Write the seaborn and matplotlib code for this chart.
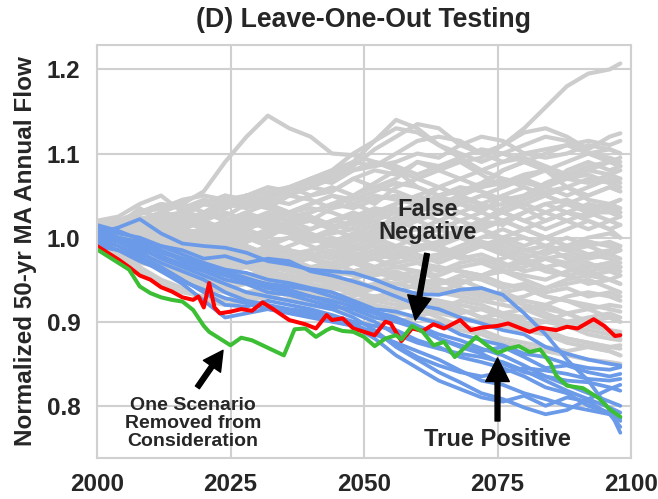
import matplotlib
matplotlib.use("Agg")
import matplotlib.pyplot as plt
import seaborn as sns

# ---------------- data ----------------
grid_years = [2000, 2004, 2008, 2012, 2016, 2020, 2024, 2028, 2032, 2036, 2040, 2044, 2048,
              2052, 2056, 2060, 2064, 2068, 2072, 2076, 2080, 2084, 2088, 2092, 2096, 2098]

gray_01 = [1.01, 1.02, 1.03, 1.035, 1.04, 1.055, 1.09, 1.12, 1.145, 1.13, 1.12, 1.10, 1.098, 1.09, 1.08, 1.06, 1.05, 1.04, 1.03, 1.02, 1.01, 1.00, 0.99, 0.995, 0.99, 0.985]
gray_02 = [1.00, 1.01, 1.02, 1.015, 1.02, 1.03, 1.025, 1.04, 1.035, 1.05, 1.06, 1.055, 1.07, 1.08, 1.075, 1.09, 1.085, 1.09, 1.095, 1.11, 1.13, 1.155, 1.18, 1.195, 1.20, 1.207]
gray_03 = [1.01, 1.005, 1.02, 1.03, 1.025, 1.04, 1.035, 1.045, 1.05, 1.06, 1.065, 1.075, 1.09, 1.115, 1.14, 1.13, 1.11, 1.095, 1.08, 1.07, 1.06, 1.05, 1.04, 1.03, 1.03, 1.025]
gray_04 = [1.015, 1.02, 1.01, 1.025, 1.03, 1.02, 1.04, 1.05, 1.055, 1.06, 1.07, 1.08, 1.09, 1.085, 1.10, 1.115, 1.12, 1.115, 1.10, 1.11, 1.125, 1.13, 1.12, 1.105, 1.12, 1.124]
gray_05 = [1.00, 1.02, 1.03, 1.04, 1.035, 1.04, 1.035, 1.045, 1.05, 1.06, 1.07, 1.08, 1.10, 1.115, 1.13, 1.125, 1.11, 1.10, 1.09, 1.10, 1.11, 1.12, 1.115, 1.10, 1.095, 1.09]
gray_06 = [1.005, 1.01, 1.03, 1.04, 1.035, 1.045, 1.04, 1.05, 1.045, 1.055, 1.06, 1.07, 1.085, 1.105, 1.12, 1.135, 1.13, 1.11, 1.10, 1.09, 1.10, 1.095, 1.10, 1.11, 1.105, 1.10]
gray_07 = [1.02, 1.025, 1.04, 1.05, 1.03, 1.04, 1.035, 1.05, 1.06, 1.055, 1.07, 1.065, 1.08, 1.085, 1.09, 1.10, 1.095, 1.11, 1.12, 1.115, 1.10, 1.105, 1.11, 1.10, 1.09, 1.085]
gray_08 = [1.01, 1.015, 1.035, 1.02, 1.03, 1.04, 1.05, 1.04, 1.05, 1.06, 1.05, 1.055, 1.07, 1.06, 1.07, 1.09, 1.08, 1.07, 1.06, 1.08, 1.09, 1.08, 1.07, 1.08, 1.075, 1.07]
gray_09 = [1.00, 1.01, 1.00, 1.02, 1.03, 1.025, 1.04, 1.035, 1.045, 1.04, 1.05, 1.06, 1.05, 1.04, 1.06, 1.07, 1.08, 1.09, 1.075, 1.06, 1.07, 1.08, 1.06, 1.05, 1.06, 1.055]
gray_10 = [1.01, 1.00, 1.015, 1.01, 1.02, 1.03, 1.02, 1.03, 1.04, 1.03, 1.02, 1.035, 1.04, 1.05, 1.045, 1.04, 1.06, 1.05, 1.04, 1.05, 1.04, 1.05, 1.06, 1.045, 1.04, 1.045]
gray_11 = [1.00, 1.005, 1.01, 1.00, 1.01, 1.02, 1.01, 1.02, 1.015, 1.03, 1.02, 1.01, 1.02, 1.03, 1.02, 1.01, 1.02, 1.03, 1.04, 1.03, 1.02, 1.03, 1.04, 1.03, 1.02, 1.025]
gray_12 = [0.995, 1.00, 1.01, 1.015, 1.005, 1.01, 1.00, 1.01, 1.02, 1.01, 1.00, 1.005, 1.01, 1.00, 0.99, 1.00, 1.01, 1.00, 0.99, 1.00, 1.01, 1.00, 0.99, 1.00, 1.005, 1.00]
gray_13 = [1.005, 0.995, 1.00, 0.99, 1.00, 0.995, 1.005, 0.99, 0.98, 0.99, 1.00, 0.99, 0.98, 0.985, 0.99, 0.98, 0.97, 0.98, 0.99, 0.98, 0.97, 0.975, 0.98, 0.97, 0.96, 0.965]
gray_14 = [1.00, 0.99, 0.98, 0.985, 0.98, 0.97, 0.975, 0.98, 0.97, 0.96, 0.965, 0.97, 0.96, 0.955, 0.96, 0.95, 0.945, 0.955, 0.95, 0.94, 0.945, 0.935, 0.94, 0.93, 0.935, 0.93]
gray_15 = [1.01, 1.00, 0.99, 0.98, 0.97, 0.96, 0.965, 0.955, 0.96, 0.95, 0.955, 0.945, 0.95, 0.94, 0.935, 0.93, 0.925, 0.92, 0.915, 0.91, 0.905, 0.90, 0.895, 0.89, 0.885, 0.88]
gray_16 = [0.995, 0.99, 0.985, 0.975, 0.965, 0.97, 0.96, 0.95, 0.955, 0.945, 0.94, 0.945, 0.935, 0.93, 0.935, 0.925, 0.92, 0.915, 0.905, 0.91, 0.90, 0.89, 0.88, 0.875, 0.87, 0.868]
gray_17 = [1.015, 1.02, 1.025, 1.015, 1.02, 1.01, 1.005, 1.01, 1.00, 1.015, 1.02, 1.01, 1.00, 1.005, 1.015, 1.025, 1.03, 1.02, 1.01, 1.02, 1.03, 1.04, 1.03, 1.02, 1.01, 1.015]
gray_18 = [1.005, 1.015, 1.02, 1.03, 1.02, 1.01, 1.02, 1.025, 1.015, 1.005, 1.01, 1.02, 1.03, 1.02, 1.01, 1.00, 0.99, 1.00, 1.01, 0.995, 0.985, 0.99, 1.00, 0.99, 0.98, 0.985]
gray_19 = [0.99, 0.995, 1.005, 0.995, 0.99, 0.985, 0.99, 1.00, 0.995, 0.985, 0.98, 0.975, 0.985, 0.99, 0.98, 0.97, 0.965, 0.96, 0.955, 0.96, 0.95, 0.94, 0.945, 0.95, 0.94, 0.935]
gray_20 = [1.01, 1.005, 0.995, 1.00, 0.99, 0.98, 0.985, 0.975, 0.98, 0.985, 0.975, 0.965, 0.97, 0.96, 0.965, 0.97, 0.96, 0.97, 0.975, 0.965, 0.97, 0.96, 0.955, 0.96, 0.95, 0.955]
gray_21 = [1.02, 1.01, 1.02, 1.03, 1.04, 1.03, 1.02, 1.03, 1.02, 1.03, 1.035, 1.03, 1.02, 1.01, 1.005, 1.00, 1.01, 1.02, 1.01, 1.00, 0.99, 1.00, 1.01, 1.02, 1.01, 1.00]
gray_22 = [1.00, 1.01, 1.005, 0.995, 1.00, 1.01, 1.015, 1.005, 0.995, 1.00, 0.99, 0.98, 0.99, 1.00, 1.01, 1.02, 1.01, 1.02, 1.03, 1.05, 1.06, 1.05, 1.04, 1.05, 1.06, 1.055]
gray_23 = [1.005, 1.00, 0.995, 1.005, 1.01, 1.00, 0.99, 0.98, 0.99, 0.985, 0.975, 0.98, 0.97, 0.975, 0.98, 0.99, 0.985, 0.975, 0.98, 0.97, 0.96, 0.965, 0.955, 0.945, 0.95, 0.945]
gray_24 = [0.995, 0.985, 0.99, 0.98, 0.975, 0.985, 0.975, 0.97, 0.965, 0.97, 0.96, 0.955, 0.96, 0.95, 0.945, 0.94, 0.935, 0.93, 0.925, 0.93, 0.92, 0.91, 0.90, 0.895, 0.89, 0.885]
gray_25 = [1.01, 1.02, 1.015, 1.03, 1.04, 1.03, 1.045, 1.05, 1.04, 1.03, 1.04, 1.05, 1.04, 1.03, 1.04, 1.05, 1.04, 1.03, 1.02, 1.03, 1.04, 1.03, 1.02, 1.01, 1.02, 1.015]
gray_26 = [1.00, 1.01, 1.02, 1.01, 1.015, 1.025, 1.035, 1.045, 1.04, 1.05, 1.045, 1.035, 1.05, 1.065, 1.08, 1.07, 1.06, 1.05, 1.06, 1.07, 1.065, 1.06, 1.07, 1.075, 1.065, 1.06]
gray_27 = [0.995, 1.005, 0.995, 0.985, 0.975, 0.98, 0.97, 0.965, 0.975, 0.97, 0.98, 0.985, 0.975, 0.965, 0.955, 0.945, 0.95, 0.94, 0.93, 0.935, 0.925, 0.92, 0.91, 0.915, 0.905, 0.90]
gray_28 = [1.015, 1.01, 1.00, 1.01, 0.995, 1.00, 0.99, 0.995, 1.005, 1.01, 1.00, 0.99, 0.995, 1.005, 1.00, 0.99, 0.995, 1.00, 0.99, 0.98, 0.985, 0.99, 0.985, 0.975, 0.98, 0.975]
gray_29 = [1.00, 0.995, 1.005, 1.015, 1.01, 1.02, 1.03, 1.02, 1.01, 1.02, 1.03, 1.04, 1.035, 1.045, 1.05, 1.04, 1.03, 1.04, 1.05, 1.06, 1.07, 1.06, 1.08, 1.09, 1.08, 1.085]
gray_30 = [1.005, 0.995, 0.985, 0.99, 0.985, 0.99, 0.98, 0.975, 0.965, 0.96, 0.965, 0.955, 0.945, 0.94, 0.935, 0.93, 0.915, 0.905, 0.90, 0.895, 0.89, 0.885, 0.875, 0.87, 0.865, 0.86]
gray_31 = [1.01, 1.015, 1.005, 1.00, 0.995, 0.99, 0.995, 1.00, 0.99, 0.98, 0.985, 0.99, 1.00, 0.995, 0.985, 0.975, 0.98, 0.99, 1.00, 1.01, 1.00, 0.99, 0.975, 0.965, 0.97, 0.965]
gray_32 = [0.995, 1.00, 1.01, 1.02, 1.025, 1.015, 1.005, 0.995, 1.005, 1.015, 1.025, 1.015, 1.01, 1.02, 1.03, 1.04, 1.05, 1.06, 1.055, 1.045, 1.05, 1.065, 1.075, 1.085, 1.09, 1.095]
gray_33 = [1.00, 0.99, 0.995, 0.99, 0.985, 0.975, 0.965, 0.97, 0.96, 0.955, 0.95, 0.96, 0.97, 0.965, 0.955, 0.95, 0.945, 0.95, 0.94, 0.93, 0.92, 0.915, 0.91, 0.90, 0.905, 0.90]
gray_34 = [1.01, 1.02, 1.03, 1.025, 1.015, 1.02, 1.01, 1.015, 1.025, 1.02, 1.01, 1.02, 1.025, 1.035, 1.03, 1.02, 1.03, 1.04, 1.035, 1.04, 1.05, 1.06, 1.05, 1.06, 1.07, 1.065]
gray_35 = [0.99, 0.985, 0.99, 0.995, 0.99, 0.98, 0.97, 0.975, 0.985, 0.975, 0.965, 0.96, 0.955, 0.96, 0.95, 0.955, 0.965, 0.96, 0.955, 0.945, 0.94, 0.93, 0.925, 0.92, 0.915, 0.912]
gray_36 = [1.005, 1.01, 1.00, 1.01, 1.02, 1.015, 1.01, 1.02, 1.03, 1.02, 1.025, 1.01, 1.00, 1.01, 1.025, 1.035, 1.045, 1.04, 1.05, 1.045, 1.035, 1.02, 1.03, 1.04, 1.035, 1.03]
gray_37 = [1.01, 1.00, 1.01, 1.02, 1.01, 1.005, 0.995, 1.00, 1.01, 1.005, 0.995, 1.00, 0.99, 0.98, 0.975, 0.985, 0.99, 0.98, 0.97, 0.975, 0.985, 0.98, 0.99, 0.995, 0.99, 0.985]
gray_38 = [0.995, 0.99, 0.985, 0.99, 1.00, 0.995, 0.985, 0.98, 0.975, 0.965, 0.96, 0.95, 0.94, 0.945, 0.94, 0.925, 0.92, 0.91, 0.915, 0.905, 0.895, 0.89, 0.895, 0.885, 0.88, 0.878]
gray_39 = [1.015, 1.02, 1.03, 1.035, 1.045, 1.05, 1.045, 1.04, 1.05, 1.055, 1.06, 1.07, 1.08, 1.09, 1.085, 1.075, 1.085, 1.095, 1.105, 1.10, 1.09, 1.08, 1.09, 1.10, 1.105, 1.10]
gray_40 = [1.00, 1.005, 1.015, 1.01, 1.00, 0.99, 1.00, 1.01, 1.02, 1.015, 1.005, 0.995, 0.985, 0.995, 1.005, 1.01, 1.00, 1.01, 1.02, 1.015, 1.03, 1.04, 1.045, 1.035, 1.04, 1.045]
gray_41 = [0.99, 0.975, 0.96, 0.945, 0.935, 0.93, 0.925, 0.935, 0.94, 0.945, 0.95, 0.955, 0.96, 0.965, 0.97, 0.975, 0.98, 0.985, 0.99, 0.995, 1.00, 0.99, 0.985, 0.99, 0.995, 0.99]
gray_42 = [0.995, 0.98, 0.965, 0.95, 0.94, 0.925, 0.92, 0.925, 0.93, 0.935, 0.93, 0.925, 0.93, 0.94, 0.935, 0.945, 0.95, 0.945, 0.955, 0.96, 0.955, 0.95, 0.96, 0.965, 0.97, 0.965]
gray_43 = [1.00, 0.99, 0.975, 0.965, 0.955, 0.945, 0.94, 0.945, 0.95, 0.94, 0.935, 0.93, 0.935, 0.925, 0.92, 0.915, 0.91, 0.905, 0.90, 0.895, 0.89, 0.885, 0.88, 0.875, 0.87, 0.872]
gray_44 = [1.005, 0.995, 0.98, 0.97, 0.96, 0.955, 0.95, 0.955, 0.945, 0.935, 0.93, 0.925, 0.92, 0.925, 0.93, 0.935, 0.94, 0.93, 0.925, 0.92, 0.915, 0.905, 0.90, 0.905, 0.91, 0.905]
gray_45 = [1.01, 1.005, 0.995, 0.985, 0.975, 0.965, 0.96, 0.965, 0.97, 0.96, 0.955, 0.95, 0.945, 0.94, 0.945, 0.95, 0.94, 0.935, 0.93, 0.935, 0.94, 0.93, 0.925, 0.915, 0.92, 0.918]
gray_46 = [0.995, 0.99, 0.98, 0.97, 0.955, 0.95, 0.94, 0.93, 0.935, 0.94, 0.945, 0.94, 0.935, 0.945, 0.955, 0.96, 0.955, 0.965, 0.97, 0.96, 0.965, 0.975, 0.97, 0.96, 0.965, 0.96]
gray_47 = [1.015, 1.01, 1.00, 0.99, 0.985, 0.975, 0.97, 0.98, 0.99, 0.985, 0.975, 0.97, 0.96, 0.965, 0.975, 0.985, 0.995, 1.005, 1.015, 1.02, 1.01, 1.02, 1.03, 1.025, 1.035, 1.03]
gray_48 = [1.00, 1.01, 1.005, 0.995, 0.99, 0.98, 0.975, 0.965, 0.955, 0.95, 0.945, 0.935, 0.925, 0.92, 0.915, 0.92, 0.925, 0.915, 0.905, 0.90, 0.895, 0.90, 0.91, 0.90, 0.89, 0.888]
gray_49 = [1.005, 1.00, 1.01, 1.02, 1.01, 1.00, 0.995, 0.985, 0.98, 0.975, 0.985, 0.995, 1.005, 1.015, 1.02, 1.03, 1.04, 1.05, 1.06, 1.065, 1.075, 1.08, 1.07, 1.065, 1.075, 1.08]
gray_50 = [0.99, 0.98, 0.97, 0.965, 0.96, 0.95, 0.945, 0.95, 0.96, 0.965, 0.96, 0.97, 0.98, 0.975, 0.965, 0.96, 0.95, 0.94, 0.935, 0.925, 0.93, 0.94, 0.95, 0.955, 0.95, 0.945]
gray_51 = [1.01, 1.015, 1.02, 1.01, 1.00, 0.995, 1.005, 1.015, 1.025, 1.03, 1.04, 1.05, 1.045, 1.055, 1.065, 1.06, 1.05, 1.055, 1.065, 1.08, 1.09, 1.10, 1.11, 1.115, 1.11, 1.115]
gray_52 = [1.00, 0.995, 0.985, 0.98, 0.97, 0.96, 0.955, 0.945, 0.94, 0.93, 0.925, 0.92, 0.91, 0.905, 0.91, 0.905, 0.90, 0.89, 0.885, 0.875, 0.87, 0.865, 0.86, 0.855, 0.852, 0.85]
gray_53 = [1.015, 1.02, 1.01, 1.00, 1.005, 0.995, 0.985, 0.99, 0.98, 0.97, 0.975, 0.965, 0.97, 0.98, 0.99, 0.985, 0.995, 1.005, 0.995, 0.985, 0.975, 0.965, 0.97, 0.98, 0.975, 0.97]
gray_54 = [1.005, 1.01, 1.02, 1.025, 1.03, 1.04, 1.05, 1.045, 1.035, 1.025, 1.03, 1.04, 1.05, 1.06, 1.055, 1.045, 1.035, 1.045, 1.04, 1.03, 1.02, 1.01, 1.02, 1.03, 1.04, 1.035]
gray_55 = [0.995, 0.985, 0.975, 0.96, 0.95, 0.94, 0.935, 0.925, 0.93, 0.925, 0.92, 0.915, 0.92, 0.91, 0.90, 0.905, 0.915, 0.925, 0.92, 0.91, 0.915, 0.92, 0.93, 0.935, 0.93, 0.925]
gray_56 = [1.00, 1.005, 1.00, 0.99, 0.98, 0.985, 0.99, 0.98, 0.97, 0.96, 0.955, 0.965, 0.975, 0.985, 0.98, 0.97, 0.975, 0.985, 0.995, 0.99, 0.98, 0.975, 0.965, 0.955, 0.96, 0.955]
gray_57 = [1.01, 1.005, 0.995, 0.99, 0.995, 1.005, 1.01, 1.00, 0.99, 1.00, 1.01, 1.02, 1.015, 1.025, 1.035, 1.03, 1.02, 1.01, 1.02, 1.035, 1.045, 1.055, 1.06, 1.07, 1.065, 1.07]
gray_58 = [0.99, 0.985, 0.975, 0.97, 0.96, 0.965, 0.955, 0.945, 0.935, 0.94, 0.935, 0.93, 0.925, 0.93, 0.925, 0.915, 0.905, 0.895, 0.89, 0.88, 0.875, 0.87, 0.865, 0.87, 0.865, 0.86]
gray_59 = [1.005, 1.015, 1.01, 1.00, 0.995, 1.005, 1.015, 1.025, 1.02, 1.01, 1.00, 1.01, 1.02, 1.03, 1.04, 1.05, 1.06, 1.07, 1.08, 1.09, 1.095, 1.085, 1.075, 1.08, 1.09, 1.085]
gray_60 = [1.00, 0.995, 0.99, 0.985, 0.975, 0.97, 0.965, 0.97, 0.975, 0.965, 0.95, 0.945, 0.95, 0.96, 0.955, 0.945, 0.935, 0.945, 0.955, 0.965, 0.975, 0.985, 0.99, 0.98, 0.985, 0.99]

blue_01 = [1.005, 1.012, 1.022, 1.005, 0.993, 0.990, 0.988, 0.982, 0.972, 0.968, 0.962, 0.960, 0.958, 0.950, 0.940, 0.933, 0.932, 0.938, 0.940, 0.932, 0.910, 0.885, 0.855, 0.830, 0.795, 0.768]
blue_02 = [1.010, 1.000, 0.995, 0.990, 0.985, 0.975, 0.978, 0.970, 0.975, 0.972, 0.960, 0.955, 0.948, 0.940, 0.930, 0.920, 0.915, 0.905, 0.898, 0.890, 0.885, 0.870, 0.862, 0.855, 0.850, 0.848]
blue_03 = [1.000, 0.995, 0.985, 0.978, 0.968, 0.960, 0.950, 0.945, 0.935, 0.932, 0.925, 0.918, 0.915, 0.905, 0.900, 0.892, 0.880, 0.872, 0.865, 0.870, 0.858, 0.845, 0.848, 0.840, 0.835, 0.838]
blue_04 = [0.995, 0.985, 0.975, 0.960, 0.945, 0.925, 0.905, 0.910, 0.915, 0.912, 0.908, 0.905, 0.895, 0.880, 0.860, 0.845, 0.830, 0.820, 0.810, 0.805, 0.812, 0.800, 0.810, 0.805, 0.790, 0.782]
blue_05 = [1.008, 0.998, 0.988, 0.975, 0.965, 0.955, 0.945, 0.935, 0.930, 0.925, 0.920, 0.915, 0.905, 0.890, 0.870, 0.855, 0.840, 0.828, 0.815, 0.808, 0.798, 0.790, 0.795, 0.808, 0.820, 0.825]
blue_06 = [1.003, 0.995, 0.982, 0.970, 0.960, 0.950, 0.935, 0.925, 0.920, 0.915, 0.912, 0.905, 0.898, 0.885, 0.875, 0.865, 0.855, 0.842, 0.830, 0.825, 0.815, 0.808, 0.800, 0.795, 0.790, 0.775]
blue_07 = [1.012, 1.005, 1.000, 0.990, 0.980, 0.970, 0.962, 0.958, 0.950, 0.946, 0.940, 0.935, 0.925, 0.915, 0.912, 0.905, 0.898, 0.885, 0.878, 0.872, 0.862, 0.858, 0.850, 0.845, 0.843, 0.846]
blue_08 = [0.998, 0.990, 0.978, 0.965, 0.950, 0.935, 0.920, 0.918, 0.925, 0.920, 0.915, 0.908, 0.900, 0.895, 0.890, 0.878, 0.870, 0.858, 0.852, 0.845, 0.835, 0.822, 0.815, 0.800, 0.792, 0.785]
blue_09 = [1.005, 1.000, 0.992, 0.985, 0.972, 0.962, 0.955, 0.948, 0.940, 0.935, 0.930, 0.925, 0.918, 0.910, 0.902, 0.895, 0.885, 0.878, 0.868, 0.860, 0.848, 0.835, 0.825, 0.815, 0.805, 0.800]
blue_10 = [1.015, 1.008, 0.998, 0.985, 0.975, 0.965, 0.958, 0.950, 0.945, 0.942, 0.938, 0.930, 0.922, 0.912, 0.905, 0.895, 0.880, 0.870, 0.862, 0.850, 0.840, 0.835, 0.830, 0.828, 0.822, 0.818]
blue_11 = [0.990, 0.985, 0.972, 0.962, 0.948, 0.938, 0.928, 0.922, 0.915, 0.910, 0.905, 0.900, 0.895, 0.888, 0.872, 0.858, 0.848, 0.840, 0.835, 0.840, 0.845, 0.842, 0.838, 0.832, 0.830, 0.832]
blue_12 = [1.000, 0.998, 0.990, 0.982, 0.975, 0.968, 0.960, 0.952, 0.944, 0.938, 0.930, 0.922, 0.910, 0.900, 0.885, 0.875, 0.868, 0.862, 0.858, 0.852, 0.842, 0.830, 0.818, 0.808, 0.798, 0.792]

red_years = [2000, 2002, 2004, 2006, 2008, 2010, 2012, 2014, 2016, 2018, 2019, 2020, 2021, 2022, 2023,
             2025, 2027, 2029, 2031, 2033, 2036, 2039, 2041, 2043, 2044, 2046, 2048, 2050, 2052, 2054,
             2055, 2057, 2059, 2061, 2063, 2065, 2068, 2070, 2072, 2075, 2077, 2079, 2081, 2083, 2086,
             2088, 2090, 2093, 2095, 2097, 2098]
red_vals = [0.990, 0.982, 0.974, 0.965, 0.955, 0.950, 0.941, 0.936, 0.929, 0.926, 0.930, 0.917, 0.946, 0.917, 0.910,
            0.912, 0.915, 0.913, 0.923, 0.915, 0.902, 0.897, 0.892, 0.908, 0.902, 0.904, 0.892, 0.888, 0.884, 0.900,
            0.898, 0.877, 0.892, 0.889, 0.897, 0.892, 0.902, 0.890, 0.893, 0.895, 0.898, 0.893, 0.888, 0.893, 0.890,
            0.894, 0.892, 0.903, 0.895, 0.883, 0.884]

green_years = [2000, 2002, 2004, 2006, 2008, 2010, 2012, 2014, 2016, 2018, 2020, 2021, 2023, 2025, 2027,
               2029, 2031, 2033, 2035, 2037, 2039, 2041, 2043, 2044, 2046, 2048, 2050, 2052, 2054, 2056,
               2057, 2059, 2061, 2063, 2065, 2067, 2069, 2071, 2073, 2075, 2077, 2079, 2081, 2083, 2085,
               2086, 2088, 2091, 2094, 2096, 2098]
green_vals = [0.986, 0.978, 0.970, 0.962, 0.942, 0.934, 0.929, 0.926, 0.924, 0.914, 0.895, 0.888, 0.880, 0.872, 0.881,
              0.878, 0.872, 0.866, 0.860, 0.891, 0.892, 0.882, 0.890, 0.893, 0.889, 0.888, 0.882, 0.871, 0.880, 0.884,
              0.879, 0.895, 0.888, 0.872, 0.876, 0.858, 0.870, 0.882, 0.872, 0.863, 0.868, 0.871, 0.864, 0.867, 0.850,
              0.836, 0.824, 0.821, 0.809, 0.796, 0.787]

x_ticks = [2000, 2025, 2050, 2075, 2100]
y_ticks = [0.8, 0.9, 1.0, 1.1, 1.2]

gray_lines = [gray_01, gray_02, gray_03, gray_04, gray_05, gray_06, gray_07, gray_08, gray_09, gray_10,
              gray_11, gray_12, gray_13, gray_14, gray_15, gray_16, gray_17, gray_18, gray_19, gray_20,
              gray_21, gray_22, gray_23, gray_24, gray_25, gray_26, gray_27, gray_28, gray_29, gray_30,
              gray_31, gray_32, gray_33, gray_34, gray_35, gray_36, gray_37, gray_38, gray_39, gray_40,
              gray_41, gray_42, gray_43, gray_44, gray_45, gray_46, gray_47, gray_48, gray_49, gray_50,
              gray_51, gray_52, gray_53, gray_54, gray_55, gray_56, gray_57, gray_58, gray_59, gray_60]
blue_lines = [blue_01, blue_02, blue_03, blue_04, blue_05, blue_06, blue_07, blue_08, blue_09, blue_10,
              blue_11, blue_12]

# ---------------- style ----------------
sns.set_theme(style="whitegrid")
plt.rcParams["font.family"] = ["Liberation Sans", "DejaVu Sans"]
plt.rcParams["font.weight"] = "bold"

fig = plt.figure(figsize=(6.58, 4.99), dpi=100)
ax = fig.add_axes([97 / 658, 41 / 499, (631 - 97) / 658, (458 - 45) / 499])

GRAY = "#cdcdcd"
BLUE = "#6a9ae8"
RED = "#ff0000"
GREEN = "#3cbf35"

for vals in gray_lines:
    sns.lineplot(x=grid_years, y=vals, color=GRAY, lw=3.0, ax=ax, estimator=None, sort=False)
for vals in blue_lines:
    sns.lineplot(x=grid_years, y=vals, color=BLUE, lw=2.7, ax=ax, estimator=None, sort=False)
sns.lineplot(x=red_years, y=red_vals, color=RED, lw=2.9, ax=ax, estimator=None, sort=False)
sns.lineplot(x=green_years, y=green_vals, color=GREEN, lw=2.9, ax=ax, estimator=None, sort=False)

ax.set_xlim(2000, 2100)
ax.set_ylim(0.738, 1.229)
ax.set_xticks(x_ticks)
ax.set_yticks(y_ticks)
ax.set_xticklabels([str(t) for t in x_ticks])
ax.set_yticklabels([f"{t:.1f}" for t in y_ticks])
ax.tick_params(axis="both", labelsize=17.5, colors="#262626")
ax.tick_params(axis="x", pad=5)
ax.tick_params(axis="y", pad=6)
for lab in ax.get_xticklabels() + ax.get_yticklabels():
    lab.set_fontweight("bold")
ax.grid(True, color="#d0d0d0", lw=1.5)
for sp in ax.spines.values():
    sp.set_color("#d0d0d0")
    sp.set_linewidth(1.5)

ax.set_xlabel("")
ax.set_ylabel("Normalized 50-yr MA Annual Flow", fontsize=17.5, fontweight="bold", color="#262626", labelpad=7)
ax.set_title("(D) Leave-One-Out Testing", fontsize=19.2, fontweight="bold", color="#262626", pad=13)

arrow_big = dict(facecolor="black", edgecolor="black", width=3.5, headwidth=17, headlength=17, shrink=0)
arrow_small = dict(facecolor="black", edgecolor="black", width=3.5, headwidth=15, headlength=14, shrink=0)

ax.annotate("", xy=(2059.6, 0.902), xytext=(2061.8, 0.981), arrowprops=arrow_big)
ax.text(2061.9, 1.02, "False\nNegative", ha="center", va="center", fontsize=17, fontweight="bold",
        color="#262626", linespacing=1.0)

ax.annotate("", xy=(2075.0, 0.857), xytext=(2075.0, 0.782), arrowprops=arrow_big)
ax.text(2075.0, 0.760, "True Positive", ha="center", va="center", fontsize=17, fontweight="bold",
        color="#262626")

ax.annotate("", xy=(2023.6, 0.866), xytext=(2018.8, 0.822), arrowprops=arrow_small)
ax.text(2018.0, 0.779, "One Scenario\nRemoved from\nConsideration", ha="center", va="center", fontsize=14,
        fontweight="bold", color="#262626", linespacing=1.1)

fig.savefig("out.png", dpi=100)
